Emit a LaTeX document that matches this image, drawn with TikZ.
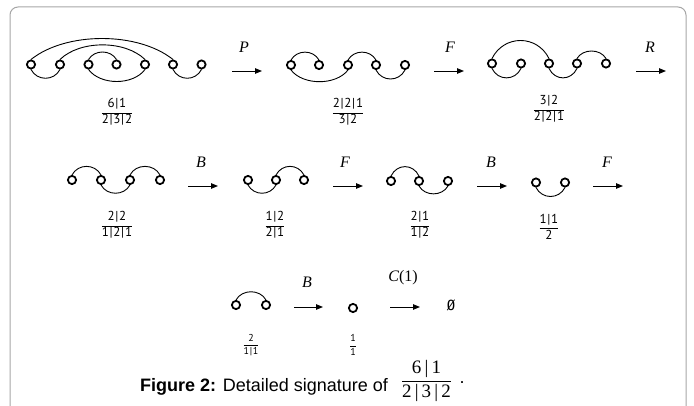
\documentclass[tikz,border=0pt]{standalone}
\usepackage{fontspec}
\setmainfont{Liberation Sans}
\newfontfamily\labfont{PT Sans}
\newfontfamily\tnr{Liberation Serif}
\newfontfamily\monofnt{DejaVu Sans Mono}
\usetikzlibrary{arrows.meta}
\newcommand\vb{\kern0.7pt|\kern0.7pt}
\newcommand\lab[2]{$\displaystyle\frac{\hbox{#1}}{\hbox{#2}}$}
\newcommand\uparc[4]{\draw[curveline] (#1.north) .. controls +(#4,-#3) and +(-#4,-#3) .. (#2.north);}
\newcommand\downarc[4]{\draw[curveline] (#1.south) .. controls +(#4,#3) and +(-#4,#3) .. (#2.south);}
\tikzset{
 vtx/.style={circle,draw,line width=1.8pt,minimum size=8.2pt,inner sep=0pt},
 curveline/.style={line width=0.9pt},
 trans/.style={line width=0.9pt,-{Triangle[length=7pt,width=5.5pt]}},
 oplab/.style={font=\tnr\itshape\fontsize{16}{18}\selectfont, inner sep=0pt},
 siglab/.style={font=\labfont\fontsize{13}{14}\selectfont, inner sep=0pt},
 siglabs/.style={font=\labfont\fontsize{10}{11}\selectfont, inner sep=0pt},
 framebox/.style={draw=black!35, line width=1pt, rounded corners=8pt},
}
\begin{document}
\begin{tikzpicture}[x=1pt,y=-1pt]
\useasboundingbox (0,0) rectangle (694,406);
\clip (0,0) rectangle (694,406);
\draw[framebox] (10,430) -- (10,7) -- (686,7) -- (686,430);

% ---------- row 1, graph 1
\foreach \n/\x in {a/31,b/60,c/88.5,d/116.5,e/145,f/173,g/201.5}
  \node[vtx] (g1\n) at (\x,64.5) {};
\uparc{g1a}{g1f}{28}{35}
\uparc{g1b}{g1e}{19.5}{20}
\uparc{g1c}{g1d}{10}{6}
\downarc{g1a}{g1b}{11.7}{6}
\downarc{g1c}{g1e}{16}{12}
\downarc{g1f}{g1g}{11.7}{6}
\node[siglab] (l1) at (117,112) {\lab{6\vb 1}{2\vb 3\vb 2}};

\coordinate (a1s) at (232,71); \coordinate (a1e) at (262,71);
\draw[trans] (a1s) -- (a1e);
\node[oplab] (o1) at (244,47) {P};

% ---------- row 1, graph 2
\foreach \n/\x in {a/291,b/319,c/348,d/376,e/405}
  \node[vtx] (g2\n) at (\x,65) {};
\uparc{g2a}{g2b}{10.5}{6}
\uparc{g2c}{g2d}{10.5}{6}
\downarc{g2a}{g2c}{15.6}{12}
\downarc{g2d}{g2e}{12}{6}
\node[siglab] (l2) at (348,112) {\lab{2\vb 2\vb 1}{3\vb 2}};

\coordinate (a2s) at (434,71); \coordinate (a2e) at (464,71);
\draw[trans] (a2s) -- (a2e);
\node[oplab] (o2) at (450,47) {F};

% ---------- row 1, graph 3
\foreach \n/\x in {a/492,b/521,c/549,d/577,e/606}
  \node[vtx] (g3\n) at (\x,63.5) {};
\uparc{g3a}{g3c}{24}{12}
\uparc{g3d}{g3e}{10}{6}
\downarc{g3a}{g3b}{12.5}{6}
\downarc{g3c}{g3d}{12.5}{6}
\node[siglab] (l3) at (549,109) {\lab{3\vb 2}{2\vb 2\vb 1}};

\coordinate (a3s) at (636,71); \coordinate (a3e) at (666,71);
\draw[trans] (a3s) -- (a3e);
\node[oplab] (o3) at (650,47) {R};

% ---------- row 2, graph 4
\foreach \n/\x in {a/72,b/101,c/130,d/160}
  \node[vtx] (g4\n) at (\x,180) {};
\uparc{g4a}{g4b}{11.5}{6}
\uparc{g4c}{g4d}{11.5}{6}
\downarc{g4b}{g4c}{11}{6}
\node[siglab] (l4) at (117,225) {\lab{2\vb 2}{1\vb 2\vb 1}};

\coordinate (a4s) at (188,186); \coordinate (a4e) at (218,186);
\draw[trans] (a4s) -- (a4e);
\node[oplab] (o4) at (201,162) {B};

% ---------- row 2, graph 5
\foreach \n/\x in {a/248,b/276,c/304}
  \node[vtx] (g5\n) at (\x,180) {};
\downarc{g5a}{g5b}{11}{6}
\uparc{g5b}{g5c}{11.5}{6}
\node[siglab] (l5) at (275,225) {\lab{1\vb 2}{2\vb 1}};

\coordinate (a5s) at (333,186); \coordinate (a5e) at (363,186);
\draw[trans] (a5s) -- (a5e);
\node[oplab] (o5) at (345,162) {F};

% ---------- row 2, graph 6
\foreach \n/\x in {a/391,b/419,c/448}
  \node[vtx] (g6\n) at (\x,181) {};
\uparc{g6a}{g6b}{12.5}{6}
\downarc{g6b}{g6c}{10.5}{6}
\node[siglab] (l6) at (420,225) {\lab{2\vb 1}{1\vb 2}};

\coordinate (a6s) at (477,186); \coordinate (a6e) at (507,186);
\draw[trans] (a6s) -- (a6e);
\node[oplab] (o6) at (491,162) {B};

% ---------- row 2, graph 7
\foreach \n/\x in {a/536,b/565}
  \node[vtx] (g7\n) at (\x,182.5) {};
\downarc{g7a}{g7b}{12}{6}
\node[siglab] (l7) at (549,227) {\lab{1\vb 1}{2}};

\coordinate (a7s) at (593,186); \coordinate (a7e) at (623,186);
\draw[trans] (a7s) -- (a7e);
\node[oplab] (o7) at (607,162) {F};

% ---------- row 3
\foreach \n/\x in {a/236,b/266}
  \node[vtx] (g8\n) at (\x,305) {};
\uparc{g8a}{g8b}{11}{6}
\node[siglabs] (l8) at (251,345) {\lab{2}{1\vb 1}};

\coordinate (a8s) at (294,307); \coordinate (a8e) at (323,307);
\draw[trans] (a8s) -- (a8e);
\node[oplab] (o8) at (307,282) {B};

\node[vtx] (g9a) at (353,308) {};
\node[siglabs] (l9) at (353,345) {\lab{1}{1}};

\coordinate (a9s) at (390,307); \coordinate (a9e) at (420,307);
\draw[trans] (a9s) -- (a9e);
\node[oplab] (o9) at (403,278) {C\upshape(1)};

\node[font=\monofnt\fontsize{14}{15}\selectfont, inner sep=0pt] (empty) at (451,305) {Ø};

% ---------- caption
\node[anchor=base west, inner sep=0pt, font=\fontsize{18}{20}\selectfont] (cap) at (140,391)
 {\textbf{Figure 2:} Detailed signature of};
\node[inner sep=0pt, font=\tnr\fontsize{19}{21}\selectfont] (capfrac) at (426.5,381)
 {$\displaystyle\frac{\hbox{6\,|\,1}}{\hbox{2\,|\,3\,|\,2}}$};
\node[anchor=base, inner sep=0pt, font=\fontsize{18}{20}\selectfont] (capdot) at (462,383) {.};
\end{tikzpicture}
\end{document}
